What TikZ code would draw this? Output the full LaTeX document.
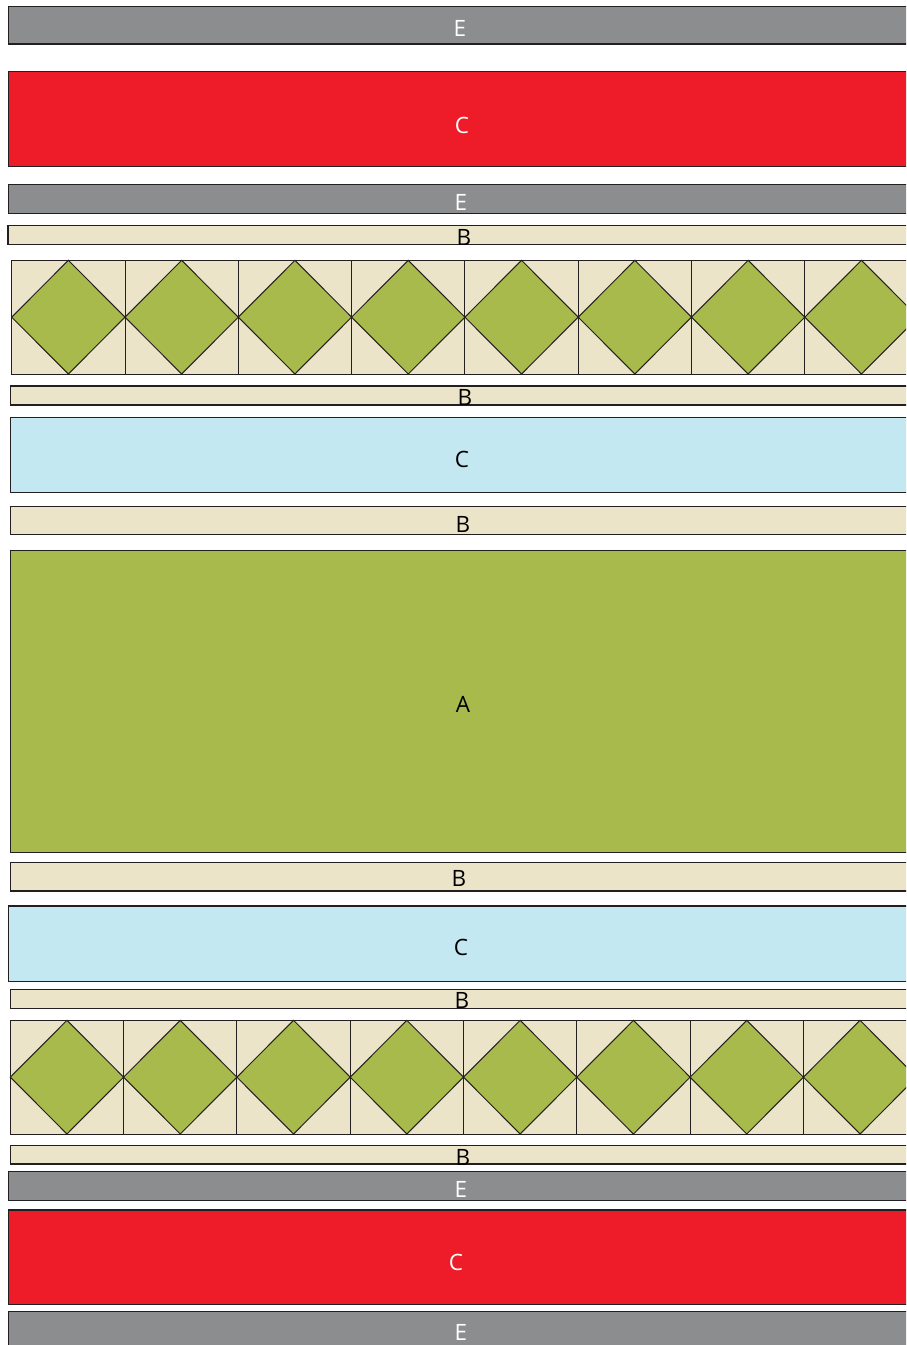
\documentclass[tikz,border=0pt]{standalone}
\usepackage{fontspec}
\setmainfont{Open Sans}
\definecolor{cgray}{HTML}{8C8D8F}
\definecolor{cred}{HTML}{ED1C28}
\definecolor{cbeige}{HTML}{ECE4C8}
\definecolor{cgreen}{HTML}{A8BA4C}
\definecolor{cblue}{HTML}{C4E8F1}
\definecolor{cline}{HTML}{231F20}
\tikzset{
  barbox/.style={draw=cline, line width=1.1pt},
  barE/.style={barbox, fill=cgray},
  barC/.style={barbox, fill=cred},
  barB/.style={barbox, fill=cbeige},
  barA/.style={barbox, fill=cgreen},
  barL/.style={barbox, fill=cblue},
  lblW/.style={text=white, font=\fontsize{22.5}{24}\selectfont, inner sep=0pt},
  lblK/.style={text=black, font=\fontsize{22.5}{24}\selectfont, inner sep=0pt},
  cellbox/.style={draw=cline, line width=1pt, fill=cbeige},
  diam/.style={draw=cline, line width=1pt, fill=cgreen}
}
\begin{document}
\begin{tikzpicture}[x=1pt, y=-1pt]
\useasboundingbox (0,0) rectangle (906,1345);
\clip (0,0) rectangle (906,1345);
\fill[white] (0,0) rectangle (906,1345);
% top E
\draw[barE] (8.3,6.5) rectangle (915,44);
\node[lblW] (e1) at (460,28) {E};
% red C
\draw[barC] (8.3,71.7) rectangle (915,166.3);
\node[lblW] (c1) at (462,125) {C};
% E
\draw[barE] (8.3,184.5) rectangle (915,213.3);
\node[lblW] (e2) at (461,202) {E};
% B
\draw[barB] (8,225.7) rectangle (915,244.8);
\node[lblK] (b1) at (464,237) {B};
% diamond row 1
\foreach \i in {0,...,7}{
  \pgfmathsetmacro{\xa}{11.7+\i*113.3}
  \pgfmathsetmacro{\xb}{\xa+113.3}
  \pgfmathsetmacro{\xm}{\xa+56.65}
  \draw[cellbox] (\xa,260.3) rectangle (\xb,374);
  \draw[diam] (\xm,260.3) -- (\xb,317.15) -- (\xm,374) -- (\xa,317.15) -- cycle;
}
% B
\draw[barB] (10.3,386) rectangle (915,405);
\node[lblK] (b2) at (465,397) {B};
% blue C
\draw[barL] (10.3,417.3) rectangle (915,492.7);
\node[lblK] (c2) at (462,459) {C};
% B
\draw[barB] (10.3,506.3) rectangle (915,534.3);
\node[lblK] (b3) at (463,524) {B};
% A
\draw[barA] (10.3,550.7) rectangle (915,852.7);
\node[lblK] (a1) at (463,704) {A};
% B
\draw[barB] (10.3,862.3) rectangle (915,891);
\node[lblK] (b4) at (459,878) {B};
% blue C
\draw[barL] (8.7,906) rectangle (915,981.7);
\node[lblK] (c3) at (461,947) {C};
% B
\draw[barB] (10.3,989.3) rectangle (915,1008.3);
\node[lblK] (b5) at (462,1000) {B};
% diamond row 2
\foreach \i in {0,...,7}{
  \pgfmathsetmacro{\xa}{10.3+\i*113.3}
  \pgfmathsetmacro{\xb}{\xa+113.3}
  \pgfmathsetmacro{\xm}{\xa+56.65}
  \draw[cellbox] (\xa,1020.3) rectangle (\xb,1134);
  \draw[diam] (\xm,1020.3) -- (\xb,1077.15) -- (\xm,1134) -- (\xa,1077.15) -- cycle;
}
% B
\draw[barB] (10.3,1145.3) rectangle (915,1164);
\node[lblK] (b6) at (463,1157) {B};
% E
\draw[barE] (8.7,1171.7) rectangle (915,1200.3);
\node[lblW] (e3) at (461,1189) {E};
% red C
\draw[barC] (8.7,1210) rectangle (915,1304.7);
\node[lblW] (c4) at (456,1262) {C};
% bottom E
\draw[barE] (8.7,1311.3) rectangle (915,1360);
\node[lblW] (e4) at (461,1332) {E};
\end{tikzpicture}
\end{document}
